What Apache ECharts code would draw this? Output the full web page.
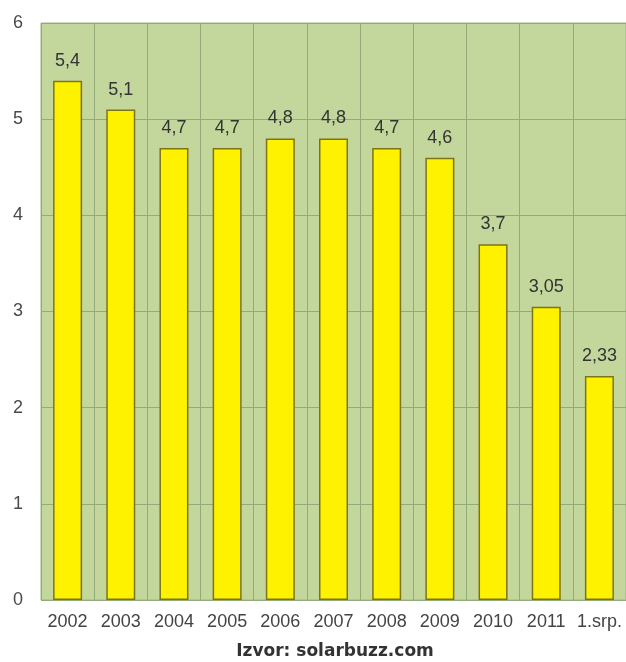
<!DOCTYPE html>
<html>
<head>
<meta charset="utf-8">
<script src="https://cdn.jsdelivr.net/npm/echarts@6/dist/echarts.min.js"></script>
<style>
html,body{margin:0;padding:0;background:#fff;}
#chart{width:626px;height:662px;}
</style>
</head>
<body>
<div id="chart"></div>
<script>
// Price per watt by year
const years = ['2002','2003','2004','2005','2006','2007','2008','2009','2010','2011','1.srp.'];
const prices = [5.4, 5.1, 4.7, 4.7, 4.8, 4.8, 4.7, 4.6, 3.7, 3.05, 2.33];
const valueLabels = ['5,4','5,1','4,7','4,7','4,8','4,8','4,7','4,6','3,7','3,05','2,33'];
const yTicks = [0, 1, 2, 3, 4, 5, 6];
const sourceNote = 'Izvor: solarbuzz.com';

const chart = echarts.init(document.getElementById('chart'));
chart.setOption({
  animation: false,
  backgroundColor: '#ffffff',
  graphic: [{
    type: 'text',
    x: 335,
    y: 652,
    style: {
      text: sourceNote,
      align: 'center',
      verticalAlign: 'middle',
      fill: '#333',
      font: 'bold 17px "DejaVu Sans", sans-serif'
    }
  }],
  grid: {left: 41, right: 0, top: 23, bottom: 62, show: true, backgroundColor: '#c3d69b', borderColor: '#9fb585', borderWidth: 1},
  xAxis: {
    type: 'category',
    data: years,
    axisLine: {show: false},
    axisTick: {show: false},
    axisLabel: {color: '#444', fontSize: 18, fontFamily: 'Arial, Liberation Sans', margin: 13, interval: 0},
    splitLine: {show: true, lineStyle: {color: '#93ab78', width: 1}}
  },
  yAxis: {
    type: 'value',
    min: yTicks[0],
    max: yTicks[yTicks.length - 1],
    interval: 1,
    axisLine: {show: false},
    axisTick: {show: false},
    axisLabel: {color: '#4a4a4a', fontSize: 18, fontFamily: 'Arial, Liberation Sans', margin: 18},
    splitLine: {show: true, lineStyle: {color: '#93ab78', width: 1}}
  },
  series: [{
    type: 'bar',
    data: prices,
    barWidth: 29,
    itemStyle: {color: '#fff200', borderColor: '#7f7414', borderWidth: 1.5},
    label: {
      show: true,
      position: 'top',
      distance: 11,
      color: '#333',
      fontSize: 18,
      fontFamily: 'Arial, Liberation Sans',
      formatter: p => valueLabels[p.dataIndex]
    }
  }]
});
</script>
</body>
</html>
